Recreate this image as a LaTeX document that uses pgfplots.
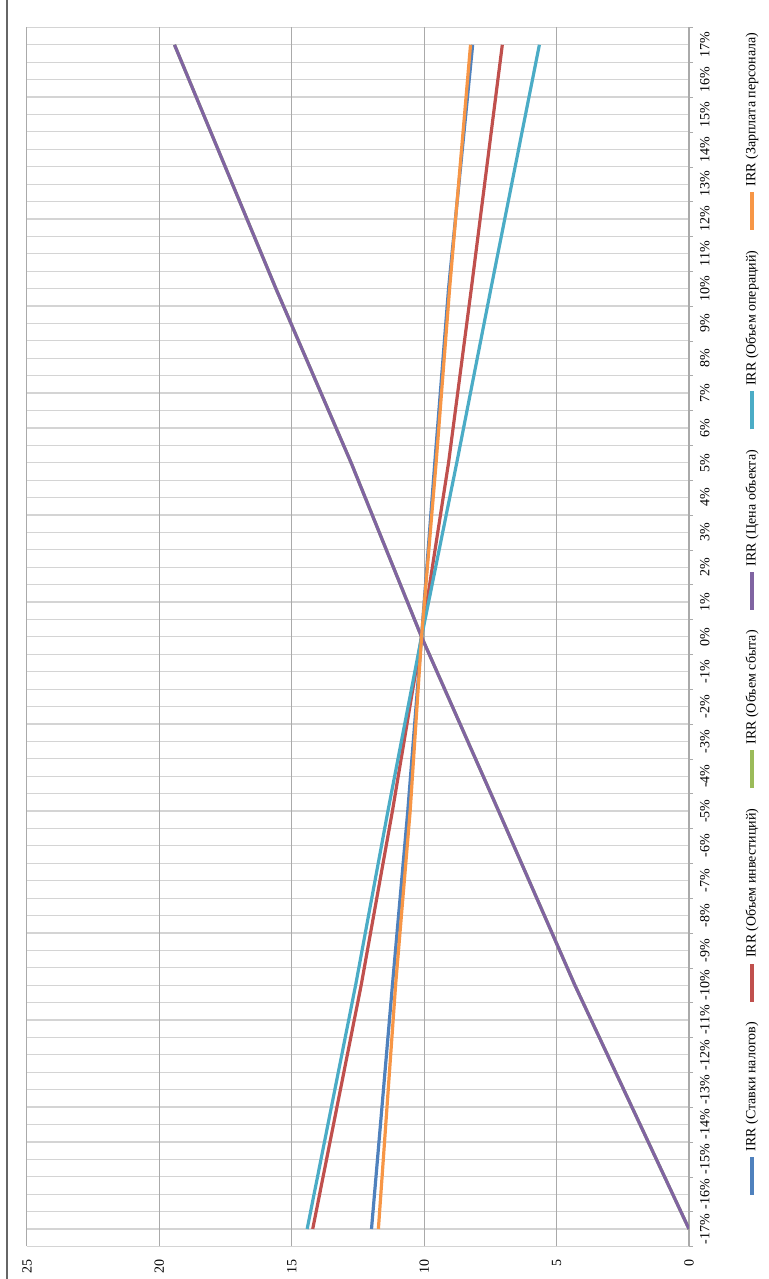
\documentclass[border=0pt]{standalone}
\usepackage{fontspec}
\setmainfont{Liberation Serif}
\usepackage{pgfplots}
\pgfplotsset{compat=1.18}

\definecolor{sBlue}{HTML}{4F81BD}
\definecolor{sRed}{HTML}{C0504D}
\definecolor{sGreen}{HTML}{9BBB59}
\definecolor{sPurple}{HTML}{8064A2}
\definecolor{sTeal}{HTML}{4BACC6}
\definecolor{sOrange}{HTML}{F79646}
\definecolor{gridMajor}{RGB}{170,170,170}
\definecolor{gridMinor}{RGB}{212,212,212}

\begin{document}
\begin{tikzpicture}
\begin{scope}[rotate=90,transform shape]
\path[use as bounding box] (0,0) rectangle (639.5pt,384pt);
\draw[black!60, line width=1pt] (0,380.5pt) -- (639.5pt,380.5pt);
\begin{axis}[
  at={(16.3pt,39.5pt)}, anchor=south west,
  scale only axis, width=609.5pt, height=331pt,
  xmin=-17.5, xmax=17.5, ymin=0, ymax=25,
  xtick={-17,...,17},
  minor xtick={-17.5,-16.5,...,17.5},
  ytick={0,5,...,25},
  xticklabel={\pgfmathprintnumber{\tick}\%},
  /pgf/number format/assume math mode=true,
  font=\fontsize{7}{8.4}\selectfont,
  tick label style={font=\fontsize{7}{8.4}\selectfont},
  xmajorgrids, xminorgrids, ymajorgrids,
  major x grid style={gridMinor, line width=0.6pt},
  minor x grid style={gridMinor, line width=0.6pt},
  major y grid style={gridMajor, line width=0.5pt},
  axis x line*=bottom, axis y line*=left,
  x axis line style={gridMajor, line width=0.6pt, -},
  y axis line style={draw=none},
  major tick length=0pt, minor tick length=2pt,
  tick align=outside,
  minor x tick style={gridMajor},
  xticklabel style={yshift=-2pt},
  yticklabel style={xshift=-3pt},
  legend columns=6,
  legend style={at={(0.52,0)}, anchor=center, yshift=-31.5pt, draw=none,
    fill=none, font=\fontsize{7}{8.4}\selectfont,
    /tikz/every even column/.append style={column sep=7.5pt}},
  legend image code/.code={\draw[#1, line width=1.6pt] (0pt,0pt) -- (19pt,0pt);},
  every axis plot/.append style={line width=1.6pt},
]
\addplot[sBlue] coordinates {(-17,11.99) (-10,11.20) (-5,10.62) (0,10.10) (5,9.60) (10,9.08) (17,8.17)};
\addlegendentry{IRR (Ставки налогов)}
\addplot[sRed] coordinates {(-17,14.21) (-10,12.38) (-5,11.20) (0,10.10) (5,9.08) (10,8.22) (17,7.05)};
\addlegendentry{IRR (Объем инвестиций)}
\addplot[sGreen] coordinates {(-17,0.00) (-10,4.31) (-5,7.19) (0,10.10) (5,12.76) (10,15.60) (17,19.43)};
\addlegendentry{IRR (Объем сбыта)}
\addplot[sPurple] coordinates {(-17,0.00) (-10,4.31) (-5,7.19) (0,10.10) (5,12.76) (10,15.60) (17,19.43)};
\addlegendentry{IRR (Цена объекта)}
\addplot[sTeal] coordinates {(-17,14.42) (-10,12.59) (-5,11.37) (0,10.10) (5,8.77) (10,7.48) (17,5.65)};
\addlegendentry{IRR (Объем операций)}
\addplot[sOrange] coordinates {(-17,11.73) (-10,11.08) (-5,10.53) (0,10.10) (5,9.55) (10,9.04) (17,8.25)};
\addlegendentry{IRR (Зарплата персонала)}
\end{axis}
\end{scope}
\end{tikzpicture}
\end{document}
